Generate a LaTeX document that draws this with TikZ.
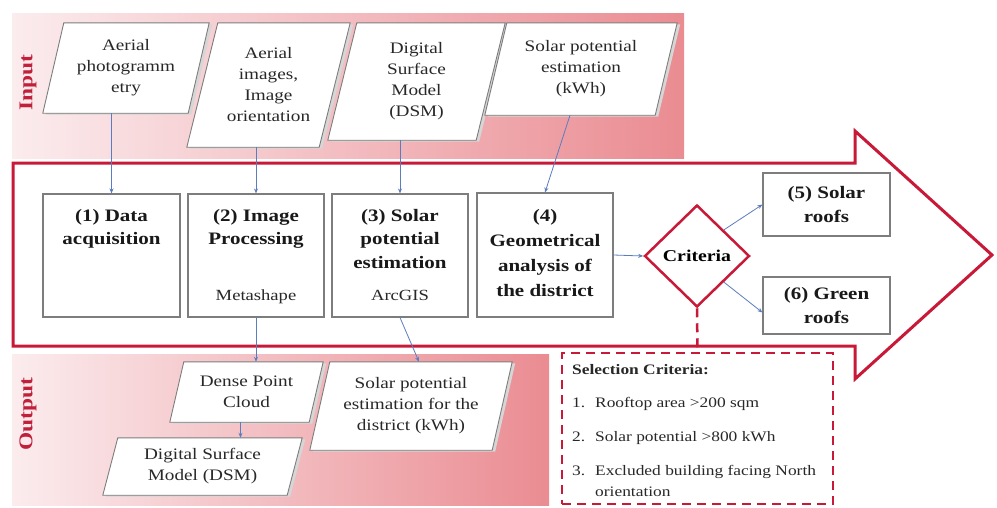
\documentclass[tikz,border=0pt]{standalone}
\usepackage{fontspec}
\setmainfont{Liberation Serif}[FakeStretch=1.2]
\usetikzlibrary{shapes.geometric,arrows.meta,calc}
\pgfdeclarelayer{bg}
\pgfdeclarelayer{mid}
\pgfsetlayers{bg,mid,main}
\definecolor{crim}{RGB}{200,26,56}
\definecolor{lbl}{RGB}{192,32,58}
\definecolor{conncol}{RGB}{91,125,192}
\definecolor{pinkL}{RGB}{251,236,238}
\definecolor{pinkR}{RGB}{234,140,146}
\definecolor{bord}{RGB}{125,125,125}
\definecolor{txt}{RGB}{40,40,40}
\tikzset{
  procbox/.style={draw=bord, line width=1.1pt, fill=white, inner sep=0pt},
  btext/.style={font=\fontsize{17.5}{23.5}\selectfont\bfseries, align=center, text=black!90, inner sep=0pt},
  ptext/.style={font=\fontsize{16}{21}\selectfont, align=center, text=txt, inner sep=0pt},
  stext/.style={font=\fontsize{15.5}{19}\selectfont, text=txt, inner sep=0pt},
  ctext/.style={font=\fontsize{14.5}{18}\selectfont, text=txt, inner sep=0pt, anchor=base west},
  para/.style={draw=bord, line width=0.9pt, fill=white},
  cn/.style={draw=conncol, line width=0.8pt, -{Stealth[length=5pt,width=4pt]}},
  bandlbl/.style={font=\fontsize{19.5}{22}\selectfont\bfseries, text=lbl, rotate=90, inner sep=0pt},
}
\newcommand\paradraw[2]{%
  \begin{pgfonlayer}{mid}
    \fill[gray!32] ($(#1.north west)+(#2+3,1.5)$) -- ($(#1.north east)+(3,1.5)$) -- ($(#1.south east)+(-#2+3,1.5)$) -- ($(#1.south west)+(3,1.5)$) -- cycle;
    \draw[para] ($(#1.north west)+(#2,0)$) -- (#1.north east) -- ($(#1.south east)+(-#2,0)$) -- (#1.south west) -- cycle;
  \end{pgfonlayer}}
\begin{document}
\begin{tikzpicture}[x=1pt,y=-1pt]
\useasboundingbox (0,0) rectangle (997,507);
% bands
\begin{pgfonlayer}{bg}
  \fill[white] (0,0) rectangle (997,507);
  \shade[left color=pinkL, right color=pinkR] (12,13) rectangle (684,158);
  \shade[left color=pinkL, right color=pinkR] (12,354) rectangle (549,505);
  \draw[crim, line width=3pt, fill=white, line join=miter]
    (13,163) -- (855,163) -- (855,131) -- (992,255) -- (855,379) -- (855,346) -- (13,346) -- cycle;
\end{pgfonlayer}
\node[bandlbl] (inlbl) at (28,83) {Input};
\node[bandlbl] (outlbl) at (28,414) {Output};
% input parallelograms
\node[ptext, minimum width=166pt, minimum height=90pt] (p1) at (126,68) {Aerial\\photogramm\\etry};
\paradraw{p1}{21}
\node[ptext, minimum width=163pt, minimum height=124pt] (p2) at (268.5,85) {Aerial\\images,\\Image\\orientation};
\paradraw{p2}{31}
\node[ptext, minimum width=177pt, minimum height=117pt] (p3) at (416.5,81.5) {Digital\\Surface\\Model\\(DSM)};
\paradraw{p3}{29}
\node[ptext, minimum width=192pt, minimum height=92pt] (p4) at (581,69) {Solar potential\\estimation\\(kWh)};
\paradraw{p4}{22}
% process boxes
\node[procbox, minimum width=137pt, minimum height=123pt] (b1) at (111.5,255.5) {};
\node[procbox, minimum width=136pt, minimum height=123pt] (b2) at (256,255.5) {};
\node[procbox, minimum width=136pt, minimum height=123pt] (b3) at (400,255.5) {};
\node[procbox, minimum width=136pt, minimum height=124pt] (b4) at (545,255) {};
\node[btext, anchor=north] (t1) at (111.5,209) {(1) Data\\acquisition};
\node[btext, anchor=north] (t2) at (256,209) {(2) Image\\Processing};
\node[stext, anchor=base] (m2) at (256,300) {Metashape};
\node[btext, anchor=north] (t3) at (400,209) {(3) Solar\\potential\\estimation};
\node[stext, anchor=base] (m3) at (400,300) {ArcGIS};
\node[btext, anchor=north, font=\fontsize{17.5}{25}\selectfont\bfseries] (t4) at (545,209) {(4)\\Geometrical\\analysis of\\the district};
% criteria
\node[shape=diamond, draw=crim, line width=2.5pt, fill=white, minimum width=105pt, minimum height=102pt, inner sep=0pt, font=\fontsize{16.5}{20}\selectfont\bfseries] (crit) at (697,256) {Criteria};
\node[procbox, btext, minimum width=127pt, minimum height=63pt] (b5) at (826.5,204.5) {(5) Solar\\roofs};
\node[procbox, btext, minimum width=127pt, minimum height=57pt] (b6) at (826.5,305.5) {(6) Green\\roofs};
% output parallelograms
\node[ptext, minimum width=153pt, minimum height=60pt] (oA) at (246.5,392) {Dense Point\\Cloud};
\paradraw{oA}{14}
\node[ptext, minimum width=199pt, minimum height=57pt] (oB) at (202.5,466.5) {Digital Surface\\Model (DSM)};
\paradraw{oB}{15}
\node[ptext, minimum width=202pt, minimum height=88pt] (oC) at (411,406) {Solar potential\\estimation for the\\district (kWh)};
\paradraw{oC}{20}
% selection criteria box
\node[draw=crim, line width=2.5pt, dash pattern=on 9pt off 6pt, fill=white, minimum width=271pt, minimum height=151pt, inner sep=0pt] (sel) at (697.5,428.5) {};
\node[ctext, font=\fontsize{14.5}{18}\selectfont\bfseries] (s0) at (572,374) {Selection Criteria:};
\node[ctext] (s1) at (572,407) {\makebox[23pt][l]{1.}Rooftop area >200 sqm};
\node[ctext] (s2) at (572,441) {\makebox[23pt][l]{2.}Solar potential >800 kWh};
\node[ctext] (s3) at (572,475) {\makebox[23pt][l]{3.}Excluded building facing North};
\node[ctext] (s4) at (595,496) {orientation};
\draw[crim, line width=2.5pt, dash pattern=on 9pt off 6pt] (crit.south) -- (sel.north);
% connectors
\draw[cn] (b1.north |- p1.south) -- (b1.north);
\draw[cn] (b2.north |- p2.south) -- (b2.north);
\draw[cn] (b3.north |- p3.south) -- (b3.north);
\coordinate (p4s) at ($(p4.south)+(-11,0)$);
\draw[cn] (p4s) -- (b4.north);
\draw[cn] (b2.south) -- (b2.south |- oA.north);
\coordinate (cTop) at ($(oC.north)+(8,0)$);
\draw[cn] (b3.south) -- (cTop);
\coordinate (ab) at ($(oA.south)+(-6,0)$);
\draw[cn] (ab) -- (ab |- oB.north);
\draw[cn] (b4.east) -- (crit.west);
\draw[cn] (crit.north east) -- (b5.west);
\coordinate (b6in) at ($(b6.west)+(0,7)$);
\draw[cn] (crit.south east) -- (b6in);
\end{tikzpicture}
\end{document}
